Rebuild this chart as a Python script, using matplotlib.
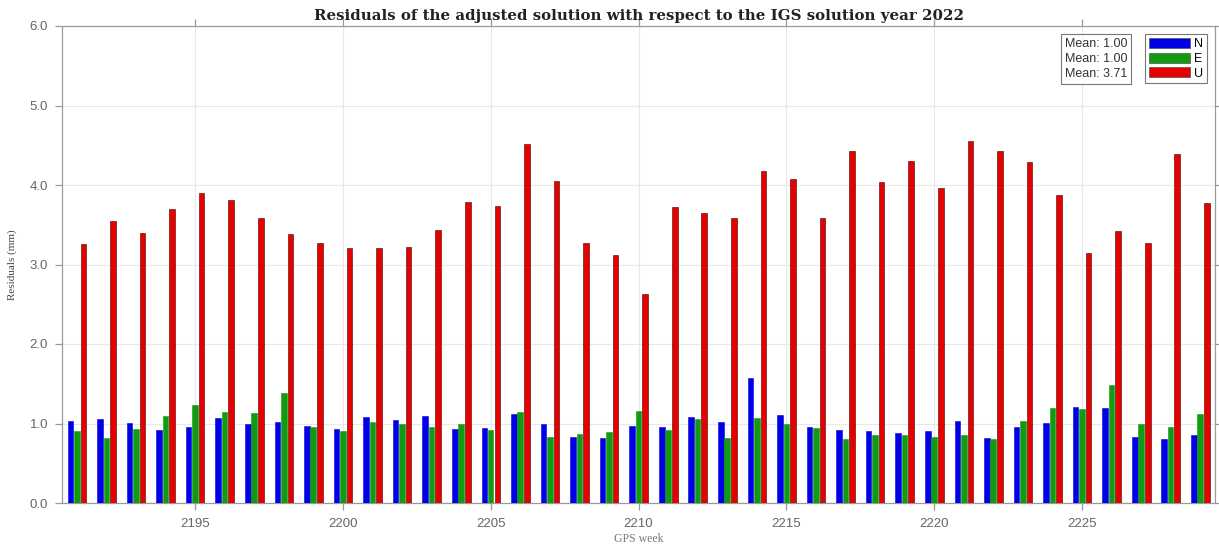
import numpy as np
import matplotlib
matplotlib.use("Agg")
import matplotlib.pyplot as plt
from matplotlib.patches import Patch

weeks = list(range(2191, 2230))
res_N = [1.03, 1.06, 1.01, 0.92, 0.96, 1.07, 1.00, 1.02, 0.97, 0.93, 1.08, 1.05,
         1.09, 0.93, 0.94, 1.12, 0.99, 0.83, 0.82, 0.97, 0.96, 1.08, 1.02, 1.57,
         1.11, 0.96, 0.92, 0.91, 0.88, 0.91, 1.03, 0.82, 0.96, 1.01, 1.21, 1.20,
         0.83, 0.81, 0.86]
res_E = [0.91, 0.82, 0.93, 1.10, 1.23, 1.15, 1.13, 1.38, 0.96, 0.90, 1.02, 1.00,
         0.95, 1.00, 0.92, 1.14, 0.83, 0.87, 0.89, 1.16, 0.92, 1.06, 0.82, 1.07,
         0.99, 0.94, 0.81, 0.85, 0.86, 0.83, 0.85, 0.80, 1.03, 1.20, 1.18, 1.49,
         0.99, 0.96, 1.12]
res_U = [3.26, 3.55, 3.39, 3.70, 3.90, 3.81, 3.59, 3.38, 3.27, 3.21, 3.21, 3.22,
         3.43, 3.78, 3.74, 4.52, 4.05, 3.27, 3.12, 2.63, 3.72, 3.65, 3.59, 4.18,
         4.08, 3.58, 4.43, 4.04, 4.30, 3.96, 4.55, 4.43, 4.29, 3.87, 3.14, 3.42,
         3.27, 4.39, 3.77]
series_labels = ["N", "E", "U"]
mean_labels = ["Mean: 1.00", "Mean: 1.00", "Mean: 3.71"]
x_ticks = [2195, 2200, 2205, 2210, 2215, 2220, 2225]
y_ticks = [0.0, 1.0, 2.0, 3.0, 4.0, 5.0, 6.0]

colors = ["#0000e6", "#129a12", "#e60000"]
plt.rcParams["font.family"] = ["Liberation Sans", "DejaVu Sans"]

W, H = 1219, 544
fig = plt.figure(figsize=(W / 100, H / 100), dpi=100)
ax = fig.add_axes([62 / W, 1 - 503 / H, (1215 - 62) / W, (503 - 26) / H])

x = np.array(weeks, dtype=float)
bw = 0.19
offsets = [-0.215, 0.0, 0.225]
for vals, off, c in zip([res_N, res_E, res_U], offsets, colors):
    ax.bar(x + off, vals, width=bw, color=c, edgecolor="#400000" if c == "#e60000" else c,
           linewidth=0.4, zorder=3)

ax.set_xlim(2190.5, 2229.5)
ax.set_ylim(0, 6)
ax.set_xticks(x_ticks)
ax.set_yticks(y_ticks)
ax.set_yticklabels([f"{v:.1f}" for v in y_ticks])
ax.grid(True, color="#e8e8e8", linewidth=0.8, zorder=0)
ax.set_axisbelow(True)
for s in ax.spines.values():
    s.set_color("#9a9a9a")
    s.set_linewidth(0.9)
ax.tick_params(direction="out", length=5, color="#9a9a9a", labelcolor="#666666",
               labelsize=9.5, top=True, right=True, width=0.9)
ax.tick_params(axis="x", pad=6)
ax.tick_params(axis="y", pad=5)

ax.set_title("Residuals of the adjusted solution with respect to the IGS solution year 2022",
             fontfamily="DejaVu Serif", fontweight="bold", fontsize=10.8, pad=4, color="#222222")
ax.set_xlabel("GPS week", fontfamily="Liberation Serif", fontsize=8.5, color="#777777", labelpad=2)
ax.set_ylabel("Residuals (mm)", fontfamily="Liberation Serif", fontsize=8, color="#444444", labelpad=9)

# mean box
handles_empty = [Patch(facecolor="none", edgecolor="none") for _ in mean_labels]
leg1 = ax.legend(handles_empty, mean_labels, loc="upper left",
                 bbox_to_anchor=(1061 / W, 1 - 34 / H), bbox_transform=fig.transFigure,
                 handlelength=0, handletextpad=0, borderpad=0.3, labelspacing=0.25,
                 fontsize=9, frameon=True, fancybox=False, edgecolor="#555555",
                 borderaxespad=0)
leg1.get_frame().set_linewidth(0.8)
for t in leg1.get_texts():
    t.set_color("#333333")
ax.add_artist(leg1)

handles = [Patch(facecolor=c, edgecolor="#555555", linewidth=0.5) for c in colors]
leg2 = ax.legend(handles, series_labels, loc="upper left",
                 bbox_to_anchor=(1145 / W, 1 - 34 / H), bbox_transform=fig.transFigure,
                 handlelength=3.3, handleheight=0.85, handletextpad=0.3, borderpad=0.3,
                 labelspacing=0.2, fontsize=9, frameon=True, fancybox=False,
                 edgecolor="#555555", borderaxespad=0)
leg2.get_frame().set_linewidth(0.8)

fig.savefig("out.png", dpi=100)
